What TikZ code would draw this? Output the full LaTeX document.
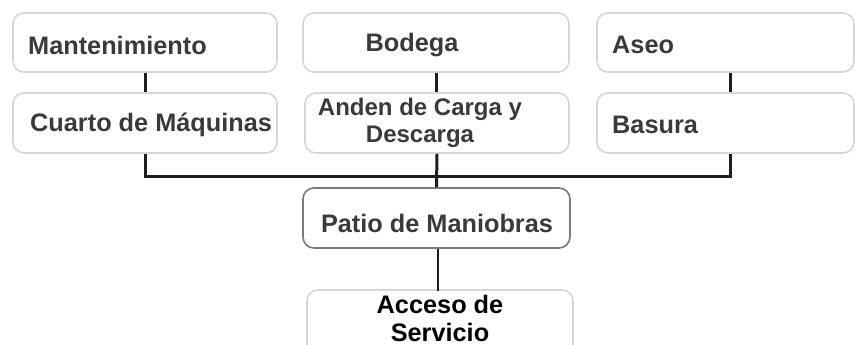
\documentclass[tikz,border=0pt]{standalone}
\usepackage{fontspec}
\setmainfont{Liberation Sans}
\definecolor{boxline}{HTML}{D6D6D6}
\definecolor{darkline}{HTML}{7A7A7A}
\definecolor{txt}{HTML}{3A3A3A}
\definecolor{conn}{HTML}{1E1E1E}
\begin{document}
\begin{tikzpicture}[x=1pt,y=-1pt,
  boxstyle/.style={draw=boxline,line width=1.6pt,rounded corners=11pt,fill=white,inner sep=0pt},
  lbl/.style={inner sep=0pt,text=txt,font=\fontsize{25.3}{28}\selectfont\bfseries},
  conline/.style={draw=conn,line width=3pt}]
\useasboundingbox (0,0) rectangle (855,345);
\clip (0,0) rectangle (855,345);
% boxes
\node[boxstyle,minimum width=264pt,minimum height=59pt] (m) at (145,42.5) {};
\node[boxstyle,minimum width=266pt,minimum height=59pt] (b) at (436,42.5) {};
\node[boxstyle,minimum width=257pt,minimum height=59pt] (a) at (725.5,42.5) {};
\node[boxstyle,minimum width=264pt,minimum height=60pt] (cm) at (145,123) {};
\node[boxstyle,minimum width=264pt,minimum height=60pt] (adc) at (437,123) {};
\node[boxstyle,minimum width=257pt,minimum height=60pt] (ba) at (725.5,123) {};
\node[boxstyle,draw=darkline,minimum width=267pt,minimum height=60pt] (pm) at (436.5,218) {};
\node[boxstyle,minimum width=266pt,minimum height=80pt] (as) at (440,330) {};
% labels
\node[lbl,anchor=west] (tm) at (28,45) {Mantenimiento};
\node[lbl] (tb) at (412,45) {Bodega};
\node[lbl,anchor=west] (ta) at (612,45) {Aseo};
\node[lbl,anchor=west] (tcm) at (30,125) {Cuarto de Máquinas};
\node[lbl,align=center,font=\fontsize{24}{27}\selectfont\bfseries] (tadc) at (420,123) {Anden de Carga y\\Descarga};
\node[lbl] (tba) at (612,125) [anchor=west] {Basura};
\node[lbl] (tpm) at (437,223) {Patio de Maniobras};
\node[lbl,text=black,align=center] (tas) at (440,318) {Acceso de\\Servicio};
% connectors
\draw[conline] (m.south) -- (cm.north);
\draw[conline] (b.south) -- (b.south |- adc.north);
\draw[conline] ([xshift=4.5pt]a.south) -- ([xshift=4.5pt]ba.north);
\coordinate (busl) at (147,176);
\draw[conline] (cm.south) |- (busl) -| ([xshift=4.5pt]ba.south);
\draw[conline] (adc.south) -- (pm.north);
\draw[conline,line width=2.4pt] ([xshift=1.5pt]pm.south) -- ([xshift=1.5pt,yshift=-2pt]pm.south |- as.north);
\end{tikzpicture}
\end{document}
